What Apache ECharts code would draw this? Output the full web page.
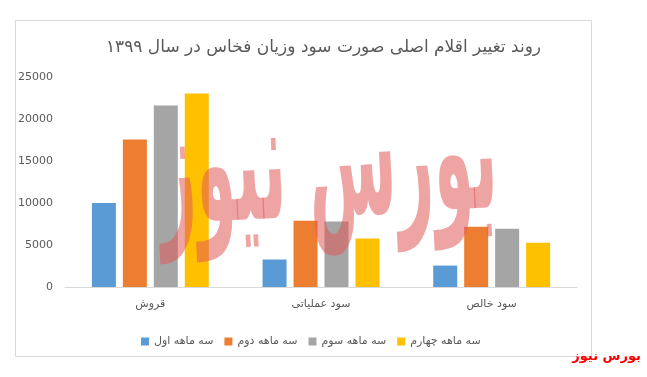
<!DOCTYPE html>
<html><head><meta charset="utf-8">
<script src="https://cdn.jsdelivr.net/npm/echarts@6/dist/echarts.min.js"></script>
<style>html,body{margin:0;padding:0;background:#fff}#c{width:647px;height:377px}</style>
</head><body><div id="c"></div>
<script>
const titleText = 'روند تغییر اقلام اصلی صورت سود وزیان فخاس در سال ۱۳۹۹';
const categories = ['قروش', 'سود عملیاتی', 'سود خالص'];
const seriesNames = ['سه ماهه اول', 'سه ماهه دوم', 'سه ماهه سوم', 'سه ماهه چهارم'];
const q1 = [10000, 3270, 2550];
const q2 = [17550, 7900, 7180];
const q3 = [21600, 7800, 6940];
const q4 = [23050, 5770, 5270];
const colors = ['#5b9bd5', '#ed7d31', '#a5a5a5', '#ffc000'];
const yTicks = [0, 5000, 10000, 15000, 20000, 25000];

const font = "'DejaVu Sans', sans-serif";
const chart = echarts.init(document.getElementById('c'));
const values = [q1, q2, q3, q4];
chart.setOption({
  animation: false,
  color: colors,
  title: {
    text: titleText, left: 'center', top: 34,
    textStyle: { fontFamily: font, fontSize: 17, fontWeight: 'normal', color: '#595959' }
  },
  legend: {
    data: seriesNames, top: 331, left: 136, itemWidth: 8, itemHeight: 8, itemGap: 11,
    icon: 'rect',
    textStyle: { fontFamily: font, fontSize: 11, color: '#595959' }
  },
  grid: { left: 65, right: 70, top: 77, bottom: 90 },
  xAxis: {
    type: 'category', data: categories,
    axisLine: { lineStyle: { color: '#d9d9d9' } },
    axisTick: { show: false },
    axisLabel: { fontFamily: font, fontSize: 11, color: '#595959', margin: 12 }
  },
  yAxis: {
    type: 'value', min: yTicks[0], max: yTicks[yTicks.length - 1], interval: 5000,
    splitLine: { show: false },
    axisLine: { show: false }, axisTick: { show: false },
    axisLabel: { fontFamily: font, fontSize: 11, color: '#595959', margin: 12, formatter: v => String(v) }
  },
  series: seriesNames.map((n, i) => ({
    name: n, type: 'bar', data: values[i], barWidth: 24, barGap: '29%',
    itemStyle: { color: colors[i] }
  })),
  graphic: [
    { type: 'rect', shape: { x: 15.5, y: 20.5, width: 576, height: 336 }, style: { fill: 'none', stroke: '#d9d9d9', lineWidth: 1 }, z: -1 },
    { type: 'text', x: 328, y: 172, scaleY: 2.6, rotation: 0.05, z: 100,
      style: { text: 'بورس نیوز', fontFamily: font, fontSize: 64, fontWeight: 'bold', fill: 'rgba(226,90,90,0.55)', textAlign: 'center', textVerticalAlign: 'middle' } },
    { type: 'text', right: 6, top: 350,
      style: { text: 'بورس نیوز', fontFamily: font, fontSize: 13, fontWeight: 'bold', fill: '#ff0000' } }
  ]
});
</script></body></html>
